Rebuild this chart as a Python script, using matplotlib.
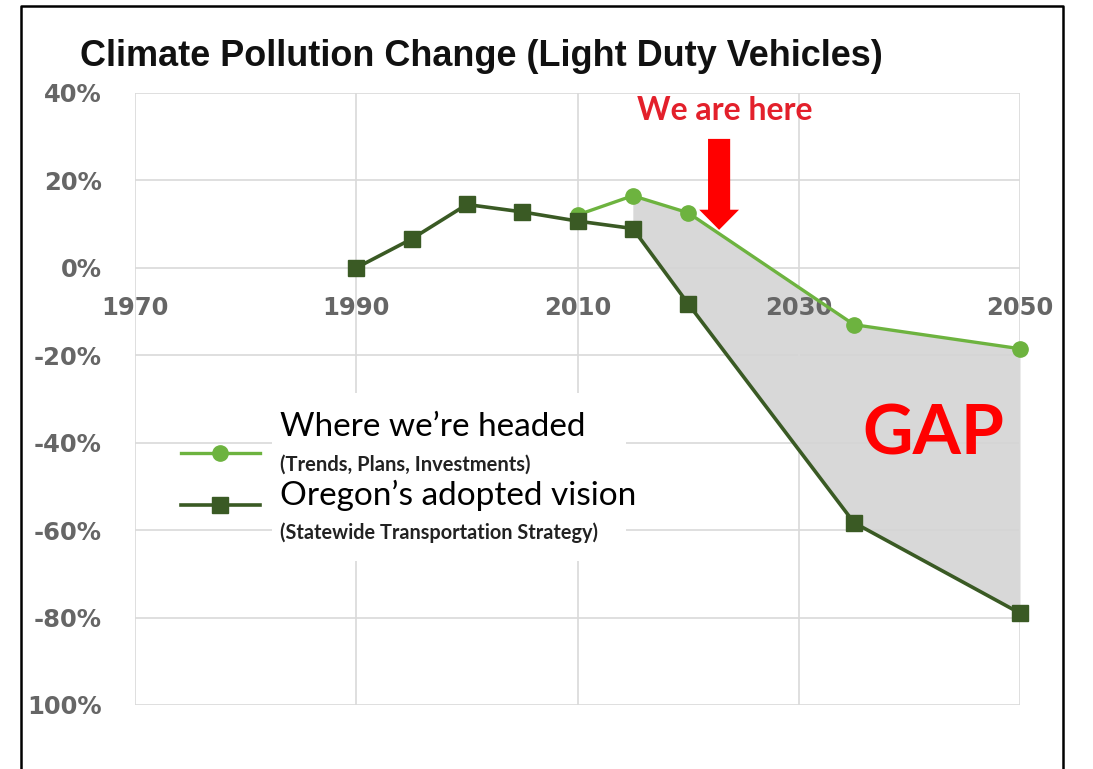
import matplotlib.pyplot as plt
from matplotlib.patches import Rectangle

# data
Years_Vision = [1990, 1995, 2000, 2005, 2010, 2015, 2020, 2035, 2050]
Vision = [0.0, 6.6, 14.5, 12.8, 10.7, 9.0, -8.2, -58.3, -79.0]

Years_Headed = [2010, 2015, 2020, 2035, 2050]
Headed = [12.1, 16.5, 12.6, -13.0, -18.5]

XTicks = [1970, 1990, 2010, 2030, 2050]
YTicks = [40, 20, 0, -20, -40, -60, -80, -100]
YLabels = ['40%', '20%', '0%', '-20%', '-40%', '-60%', '-80%', '100%']

LightGreen = '#6db33f'
DarkGreen = '#3a5a24'
TickGray = '#666666'
GridGray = '#d9d9d9'

Figure = plt.figure(figsize=(10.93, 7.69), dpi=100)
Axes = Figure.add_axes([135/1093, 1-705/769, 885/1093, 612/769])

Axes.set_xlim(1970, 2050)
Axes.set_ylim(-100, 40)
Axes.set_xticks(XTicks)
Axes.set_yticks(YTicks)
Axes.set_yticklabels(YLabels)
Axes.grid(True, color=GridGray, linewidth=1.2)
for side in ['top', 'right', 'left']:
    Axes.spines[side].set_visible(False)
Axes.spines['bottom'].set_position(('data', 0))
Axes.spines['bottom'].set_visible(False)
Axes.tick_params(length=0)
Axes.tick_params(axis='x', pad=20)
Axes.tick_params(axis='y', pad=24)
for lab in Axes.get_xticklabels() + Axes.get_yticklabels():
    lab.set_fontfamily('DejaVu Sans')
    lab.set_fontweight('bold')
    lab.set_fontsize(17.5)
    lab.set_color(TickGray)
Axes.yaxis.set_zorder(0.5)
Axes.xaxis.set_zorder(3)   # year labels sit over the grey gap, under the lines

# gap between the two projections (2015 onward)
FillYears = Years_Headed[1:]
Upper = Headed[1:]
Lower = Vision[Years_Vision.index(2015):]
Axes.fill_between(FillYears, Lower, Upper, color='#d4d4d4', alpha=0.9, linewidth=0, zorder=2)

Axes.plot(Years_Headed, Headed, color=LightGreen, linewidth=2.4, marker='o', markersize=11,
          markeredgecolor=LightGreen, zorder=4, clip_on=False)
Axes.plot(Years_Vision, Vision, color=DarkGreen, linewidth=2.6, marker='s', markersize=11,
          markeredgecolor=DarkGreen, zorder=5, clip_on=False)

# arrow and notes
ArrowX = 2022.8
Axes.arrow(ArrowX, 29.5, 0, -20.8, width=2.0, head_width=3.6, head_length=4.6,
           length_includes_head=True, color='#ff0000', linewidth=0, zorder=6)
Axes.text(2023.3, 36.0, 'We are here', color='#e3202b', fontsize=23, fontfamily='Lato',
          fontweight='bold', ha='center', va='center', zorder=6)
Axes.text(2042.2, -38.2, 'GAP', color='#ff0000', fontsize=50, fontfamily='Lato',
          fontweight='bold', ha='center', va='center', zorder=6)

# hand made legend
Axes.add_patch(Rectangle((0.155, 0.235), 0.40, 0.275, transform=Axes.transAxes,
                         facecolor='white', edgecolor='none', zorder=3.5))
Axes.plot([0.052, 0.0965, 0.141], [0.4118, 0.4118, 0.4118], transform=Axes.transAxes,
          color=LightGreen, linewidth=2.4, marker='o', markersize=11, markevery=[1],
          clip_on=False, zorder=5)
Axes.plot([0.052, 0.0965, 0.141], [0.3268, 0.3268, 0.3268], transform=Axes.transAxes,
          color=DarkGreen, linewidth=2.6, marker='s', markersize=11, markevery=[1],
          clip_on=False, zorder=5)
Axes.text(0.164, 0.454, 'Where we\u2019re headed', transform=Axes.transAxes, fontsize=24,
          fontfamily='Lato', color='black', ha='left', va='center', zorder=6)
Axes.text(0.164, 0.393, '(Trends, Plans, Investments)', transform=Axes.transAxes, fontsize=14.5,
          fontfamily='Lato', fontweight='bold', color='#222222', ha='left', va='center', zorder=6)
Axes.text(0.164, 0.342, 'Oregon\u2019s adopted vision', transform=Axes.transAxes, fontsize=24,
          fontfamily='Lato', color='black', ha='left', va='center', zorder=6)
Axes.text(0.164, 0.282, '(Statewide Transportation Strategy)', transform=Axes.transAxes, fontsize=14.3,
          fontfamily='Lato', fontweight='bold', color='#222222', ha='left', va='center', zorder=6)

Figure.text(80/1093, 1-57/769, 'Climate Pollution Change (Light Duty Vehicles)',
            fontsize=25.9, fontfamily='Liberation Sans', fontweight='bold', color='#111111',
            ha='left', va='center')

# slide frame
Figure.add_artist(plt.Line2D([21/1093, 21/1093, 1063/1093, 1063/1093],
                             [0, 1-6/769, 1-6/769, 0], transform=Figure.transFigure,
                             color='black', linewidth=1.8))

Figure.savefig('out.png', dpi=100)
